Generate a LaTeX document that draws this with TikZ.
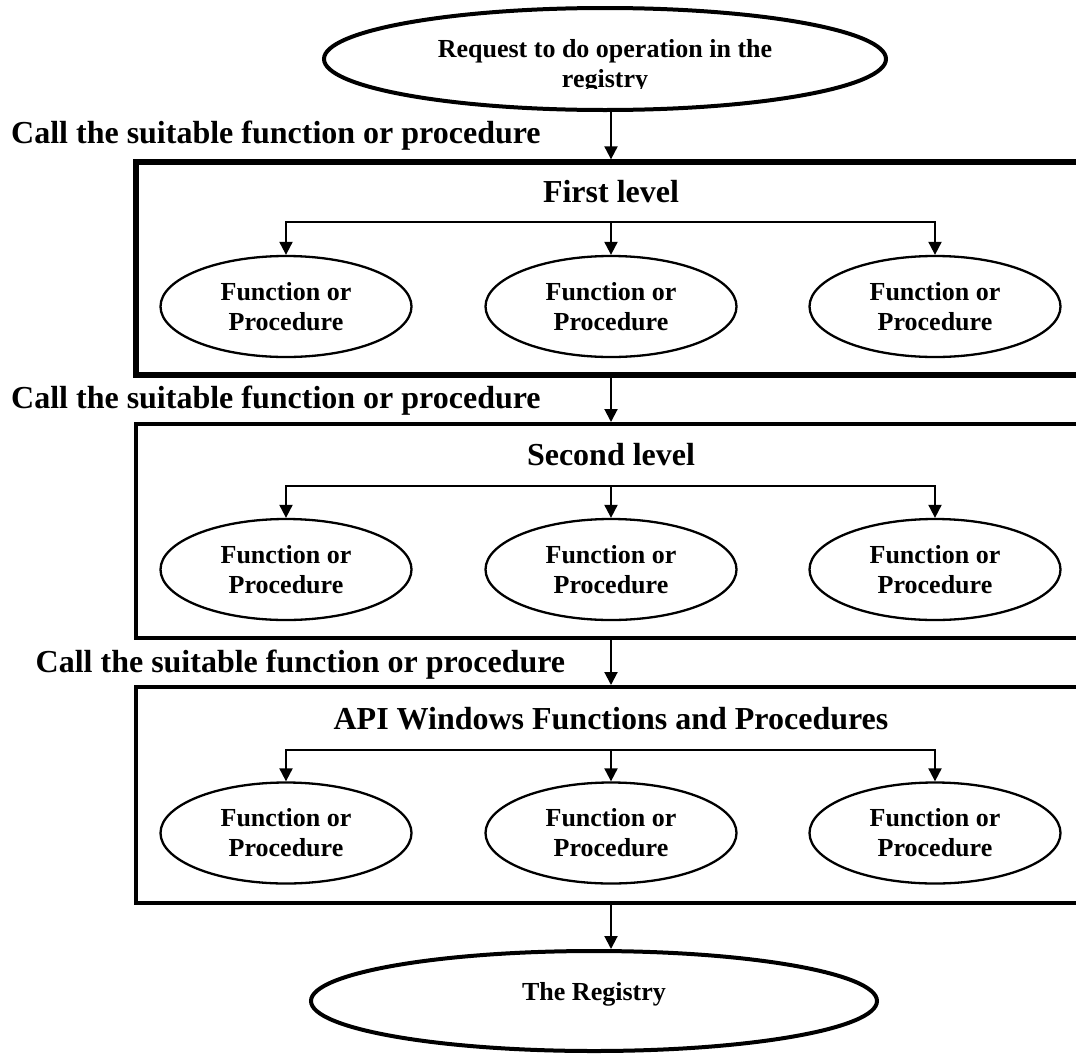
\documentclass[tikz,border=0pt]{standalone}
\usepackage{fontspec}
\setmainfont{Liberation Serif}
\usetikzlibrary{arrows.meta,shapes.geometric}
\begin{document}
\begin{tikzpicture}[x=1pt,y=-1pt,
  arr/.style={line width=2pt,-{Triangle[length=13pt,width=13pt]}},
  fp/.style={ellipse,draw,line width=2.3pt,minimum width=251pt,minimum height=101pt,inner sep=0pt,align=center,font=\fontsize{26}{30}\selectfont\bfseries},
  bigell/.style={ellipse,draw,line width=4pt,inner sep=0pt},
  lbl/.style={font=\fontsize{32}{38}\selectfont\bfseries,inner sep=0pt},
  txt/.style={font=\fontsize{26}{30}\selectfont\bfseries,inner sep=0pt,align=center},
  levelbox/.style={draw,rectangle,inner sep=0pt,minimum width=964pt}
]
\clip (0,0) rectangle (1076,1055);
\fill[white] (0,0) rectangle (1076,1055);
\coordinate (axis) at (611,0);

% top ellipse
\node[bigell,minimum width=562pt,minimum height=102pt] (top) at (605,59) {};
\begin{scope}
\clip (300,0) rectangle (900,88.5);
\node[txt] (toptext) at (605,66) {Request to do operation in the\\registry};
\end{scope}

% boxes
\node[levelbox,line width=5.3pt,minimum height=213pt] (b1) at (618,268.5) {};
\node[levelbox,line width=4pt,minimum height=214pt] (b2) at (618,531) {};
\node[levelbox,line width=4pt,minimum height=216pt] (b3) at (618,795) {};

% labels
\node[lbl,anchor=base west] (c1) at (11,143) {Call the suitable function or procedure};
\node[lbl,anchor=base west] (c2) at (11,408) {Call the suitable function or procedure};
\node[lbl,anchor=base west] (c3) at (35.5,672) {Call the suitable function or procedure};

% titles
\node[lbl,anchor=base] (t1) at (611,202) {First level};
\node[lbl,anchor=base] (t2) at (611,465) {Second level};
\node[lbl,anchor=base] (t3) at (611,729) {API Windows Functions and Procedures};

% function ellipses
\node[fp] (f11) at (286,306.5) {Function or\\Procedure};
\node[fp] (f12) at (611,306.5) {Function or\\Procedure};
\node[fp] (f13) at (935,306.5) {Function or\\Procedure};
\node[fp] (f21) at (286,569.5) {Function or\\Procedure};
\node[fp] (f22) at (611,569.5) {Function or\\Procedure};
\node[fp] (f23) at (935,569.5) {Function or\\Procedure};
\node[fp] (f31) at (286,833) {Function or\\Procedure};
\node[fp] (f32) at (611,833) {Function or\\Procedure};
\node[fp] (f33) at (935,833) {Function or\\Procedure};

% bottom ellipse
\node[bigell,minimum width=566pt,minimum height=100pt] (reg) at (594,1001) {};
\node[txt,anchor=base] (regtext) at (594,1000) {The Registry};

% main arrows
\draw[arr] (top.south -| axis) -- (b1.north -| axis);
\draw[arr] (b1.south -| axis) -- (b2.north -| axis);
\draw[arr] (b2.south -| axis) -- (b3.north -| axis);
\draw[arr] (b3.south -| axis) -- (reg.north -| axis);

% branches
\coordinate (j1) at (611,222);
\coordinate (j2) at (611,486);
\coordinate (j3) at (611,750);
\draw[arr] (j1) -| (f11.north);
\draw[arr] (j1) -- (f12.north);
\draw[arr] (j1) -| (f13.north);
\draw[arr] (j2) -| (f21.north);
\draw[arr] (j2) -- (f22.north);
\draw[arr] (j2) -| (f23.north);
\draw[arr] (j3) -| (f31.north);
\draw[arr] (j3) -- (f32.north);
\draw[arr] (j3) -| (f33.north);
\end{tikzpicture}
\end{document}
